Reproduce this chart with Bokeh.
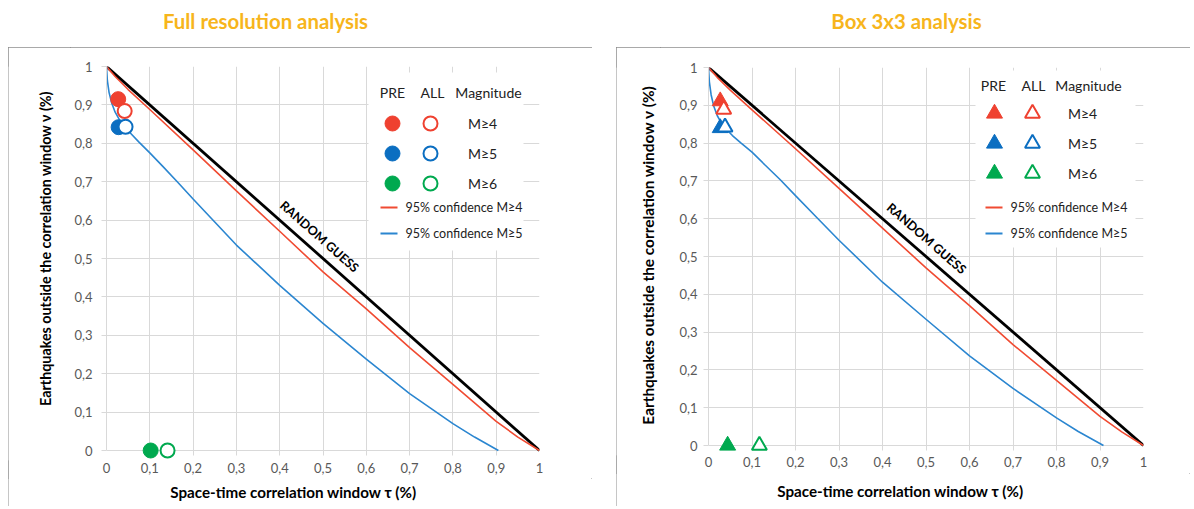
import math
from bokeh.plotting import figure
from bokeh.models import Range1d, FixedTicker, Label
from bokeh.layouts import column, row
from bokeh.embed import file_html
from bokeh.resources import INLINE

# ---------------- data ----------------
titles = ["Full resolution analysis", "Box 3x3 analysis"]
x_title = "Space-time correlation window τ (%)"
y_title = "Earthquakes outside the correlation window ν (%)"
tick_vals = [0, 0.1, 0.2, 0.3, 0.4, 0.5, 0.6, 0.7, 0.8, 0.9, 1]
tick_labels = ["0", "0,1", "0,2", "0,3", "0,4", "0,5", "0,6", "0,7", "0,8", "0,9", "1"]
magnitudes = ["M≥4", "M≥5", "M≥6"]
conf_labels = ["95% confidence M≥4", "95% confidence M≥5"]
random_text = "RANDOM GUESS"

random_tau = [0, 1]
random_v = [1, 0]

# Full resolution analysis
full_pre_tau = [0.027, 0.028, 0.102]
full_pre_v = [0.915, 0.842, 0.0]
full_all_tau = [0.042, 0.044, 0.141]
full_all_v = [0.884, 0.843, 0.0]
full_conf4_tau = [0, 0.02, 0.05, 0.1, 0.2, 0.3, 0.4, 0.5, 0.6, 0.7, 0.8, 0.9, 0.95, 1.0]
full_conf4_v = [1, 0.974, 0.94, 0.888, 0.783, 0.676, 0.571, 0.465, 0.369, 0.268, 0.172, 0.076, 0.035, 0]
full_conf5_tau = [0, 0.002, 0.006, 0.012, 0.02, 0.03, 0.04, 0.055, 0.075, 0.1, 0.13, 0.165, 0.2,
                  0.25, 0.3, 0.4, 0.5, 0.6, 0.7, 0.8, 0.85, 0.905]
full_conf5_v = [1, 0.963, 0.932, 0.905, 0.881, 0.861, 0.846, 0.827, 0.803, 0.775, 0.74, 0.698, 0.655,
                0.595, 0.535, 0.43, 0.331, 0.238, 0.148, 0.07, 0.035, 0]

# Box 3x3 analysis
box_pre_tau = [0.027, 0.027, 0.044]
box_pre_v = [0.911, 0.840, 0.0]
box_all_tau = [0.035, 0.038, 0.117]
box_all_v = [0.889, 0.842, 0.0]
box_conf4_tau = [0, 0.02, 0.05, 0.1, 0.2, 0.3, 0.4, 0.5, 0.6, 0.7, 0.8, 0.9, 0.95, 1.0]
box_conf4_v = [1, 0.974, 0.94, 0.888, 0.785, 0.68, 0.575, 0.47, 0.37, 0.267, 0.172, 0.077, 0.036, 0]
box_conf5_tau = [0, 0.002, 0.006, 0.012, 0.02, 0.03, 0.04, 0.055, 0.075, 0.1, 0.13, 0.165, 0.2,
                 0.25, 0.3, 0.4, 0.5, 0.6, 0.7, 0.8, 0.85, 0.908]
box_conf5_v = [1, 0.962, 0.928, 0.898, 0.873, 0.852, 0.838, 0.82, 0.8, 0.776, 0.742, 0.703, 0.661,
               0.602, 0.543, 0.432, 0.334, 0.237, 0.151, 0.073, 0.037, 0]

# ---------------- style ----------------
FONT = "Lato"
GRID = "#D9D9D9"
TICK_TEXT = "#595959"
TEXT = "#222222"
MARK_COLORS = ["#EF4130", "#0B6EC1", "#00A94F"]
RED_L = "#F04B32"
BLUE_L = "#2B86D0"
TITLE_COLOR = "#F7B51C"
FRAME_TOP = 47
PAGE_BOTTOM = 509
FRAME_STYLE = {"outline": "1.5px solid #8C8C8C", "outline-offset": "-1.5px",
               "clip-path": "inset(0 0 3px 0)"}


def strip(x0, w, y0, h):
    s = figure(width=w, height=h, x_range=Range1d(x0, x0 + w), y_range=Range1d(y0 + h, y0),
               output_backend="svg", toolbar_location=None, min_border=0,
               x_axis_location=None, y_axis_location=None)
    s.grid.visible = False
    s.outline_line_color = None
    s.background_fill_color = "white"
    s.border_fill_color = "white"
    return s


def make_panel(geo, pre_tau, pre_v, all_tau, all_v, c4t, c4v, c5t, c5v, marker, leg):
    ox, W, L, R, T, B = geo["ox"], geo["W"], geo["L"], geo["R"], geo["T"], geo["B"]
    pad, YW, ab = geo["pad"], geo["YW"], 18
    ymin = -pad / (B - T)
    H1 = B + pad + ab - FRAME_TOP

    def X(px):
        return (px - L) / (R - L)

    def Y(py):
        return (B - py) / (B - T)

    p = figure(width=W - YW, height=H1,
               x_range=Range1d(0, 1), y_range=Range1d(ymin, 1.0),
               output_backend="svg", toolbar_location=None,
               min_border_left=L - ox - YW, min_border_right=ox + W - R,
               min_border_top=T - FRAME_TOP, min_border_bottom=ab)
    p.outline_line_color = None
    p.background_fill_color = "white"
    p.border_fill_color = "white"

    overrides = {v: s for v, s in zip(tick_vals, tick_labels)}
    for ax in (p.xaxis[0], p.yaxis[0]):
        ax.ticker = FixedTicker(ticks=tick_vals)
        ax.major_label_overrides = overrides
        ax.minor_tick_line_color = None
        ax.major_label_text_font = FONT
        ax.major_label_text_font_size = "13px"
        ax.major_label_text_color = TICK_TEXT
    xa = p.xaxis[0]
    xa.axis_line_color = None
    xa.major_tick_line_color = None
    xa.major_tick_out = 0
    xa.major_tick_in = 0
    xa.major_label_standoff = geo["xstand"]
    ya = p.yaxis[0]
    ya.axis_line_color = GRID
    ya.bounds = (0, 1)
    ya.major_tick_line_color = GRID
    ya.major_tick_out = 5
    ya.major_tick_in = 0
    ya.major_label_standoff = geo["ystand"]

    p.xgrid.ticker = FixedTicker(ticks=tick_vals)
    p.ygrid.ticker = FixedTicker(ticks=tick_vals)
    p.xgrid.grid_line_color = GRID
    p.ygrid.grid_line_color = GRID
    p.xgrid.cross_bounds = (-5 / (B - T), 1)

    # curves
    p.line(random_tau, random_v, line_color="black", line_width=2.8)
    p.line(c4t, c4v, line_color=RED_L, line_width=1.6)
    p.line(c5t, c5v, line_color=BLUE_L, line_width=1.6)

    # RANDOM GUESS text
    ang = -math.atan2(B - T, R - L)
    p.add_layout(Label(x=X(geo["rg"][0]), y=Y(geo["rg"][1]), text=random_text, angle=ang,
                       text_align="center", text_baseline="middle", text_font=FONT,
                       text_font_style="bold", text_font_size="12.5px", text_color="black"))

    # data markers
    msize = geo["msize"]
    p.scatter(pre_tau, pre_v, marker=marker, size=msize, fill_color=MARK_COLORS,
              line_color=MARK_COLORS, line_width=1)
    p.scatter(all_tau, all_v, marker=marker, size=msize - 1, fill_color="white",
              line_color=MARK_COLORS, line_width=2)

    # legend box
    bx0, by0, bx1, by1 = leg["box"]
    p.quad(left=[X(bx0)], right=[X(bx1)], top=[Y(by0)], bottom=[Y(by1)],
           fill_color="white", line_color=None)
    hy = Y(leg["hy"])
    for txt, hx in zip(["PRE", "ALL", "Magnitude"], leg["hx"]):
        p.add_layout(Label(x=X(hx), y=hy, text=txt, text_align="center", text_baseline="middle",
                           text_font=FONT, text_font_size="14px", text_color=TEXT))
    rows_y = [Y(v) for v in leg["rows"]]
    p.scatter([X(leg["fx"])] * 3, rows_y, marker=marker, size=msize, fill_color=MARK_COLORS,
              line_color=MARK_COLORS, line_width=1)
    p.scatter([X(leg["ox"])] * 3, rows_y, marker=marker, size=msize - 1, fill_color="white",
              line_color=MARK_COLORS, line_width=2)
    for txt, yy in zip(magnitudes, rows_y):
        p.add_layout(Label(x=X(leg["mx"]), y=yy, text=txt, text_align="center", text_baseline="middle",
                           text_font=FONT, text_font_size="14px", text_color=TEXT))
    for txt, col, ly in zip(conf_labels, [RED_L, BLUE_L], leg["lines"]):
        p.line([X(leg["lx"][0]), X(leg["lx"][1])], [Y(ly), Y(ly)], line_color=col, line_width=1.8)
        p.add_layout(Label(x=X(leg["tx"]), y=Y(ly), text=txt, text_align="left", text_baseline="middle",
                           text_font=FONT, text_font_size="12.5px", text_color=TEXT))

    # axis titles in strips
    ys = strip(ox, YW, FRAME_TOP, H1)
    ys.add_layout(Label(x=geo["yt"][0], y=geo["yt"][1], text=y_title, angle=math.pi / 2,
                        text_align="center", text_baseline="middle", text_font=FONT,
                        text_font_style="bold", text_font_size=geo["yt_fs"], text_color="black"))
    xs = strip(ox, W, FRAME_TOP + H1, PAGE_BOTTOM - FRAME_TOP - H1)
    xs.add_layout(Label(x=geo["xt"][0], y=geo["xt"][1], text=x_title,
                        text_align="center", text_baseline="middle", text_font=FONT,
                        text_font_style="bold", text_font_size="15.2px", text_color="black"))
    return column(row(ys, p, spacing=0), xs, spacing=0, styles=FRAME_STYLE)


geo_full = dict(ox=8, W=584, L=106, R=539, T=66, B=450, pad=10, YW=62, xstand=2, ystand=9,
                rg=(319, 236), msize=15, xt=(293, 491), yt=(45, 246), yt_fs="14.3px")
leg_full = dict(box=(368, 72, 523, 250), hy=92, hx=(392, 432, 488), rows=(123, 153, 183),
                fx=392, ox=430, mx=482, lines=(207, 233), lx=(380, 397), tx=405)
geo_box = dict(ox=616, W=574, L=708, R=1143, T=67, B=445, pad=10, YW=44, xstand=1, ystand=6,
               rg=(926, 238), msize=16, xt=(900, 490), yt=(647, 253), yt_fs="15.4px")
leg_box = dict(box=(975, 70, 1135, 247), hy=85, hx=(993, 1033, 1088), rows=(113, 143, 173),
               fx=994, ox=1032, mx=1082, lines=(207, 233), lx=(985, 1002), tx=1010)

panel1 = make_panel(geo_full, full_pre_tau, full_pre_v, full_all_tau, full_all_v,
                    full_conf4_tau, full_conf4_v, full_conf5_tau, full_conf5_v, "circle", leg_full)
panel2 = make_panel(geo_box, box_pre_tau, box_pre_v, box_all_tau, box_all_v,
                    box_conf4_tau, box_conf4_v, box_conf5_tau, box_conf5_v, "triangle", leg_box)
panel1.margin = (0, 0, 0, 8)

# title strip
t = strip(0, 1190, 0, FRAME_TOP)
for txt, cx in zip(titles, [265, 906]):
    t.add_layout(Label(x=cx, y=20, text=txt, text_align="center", text_baseline="middle",
                       text_font=FONT, text_font_style="bold", text_font_size="20.4px",
                       text_color=TITLE_COLOR))

layout = column(t, row(panel1, panel2, spacing=24), spacing=0)
open("out.html", "w").write(file_html(layout, INLINE))
